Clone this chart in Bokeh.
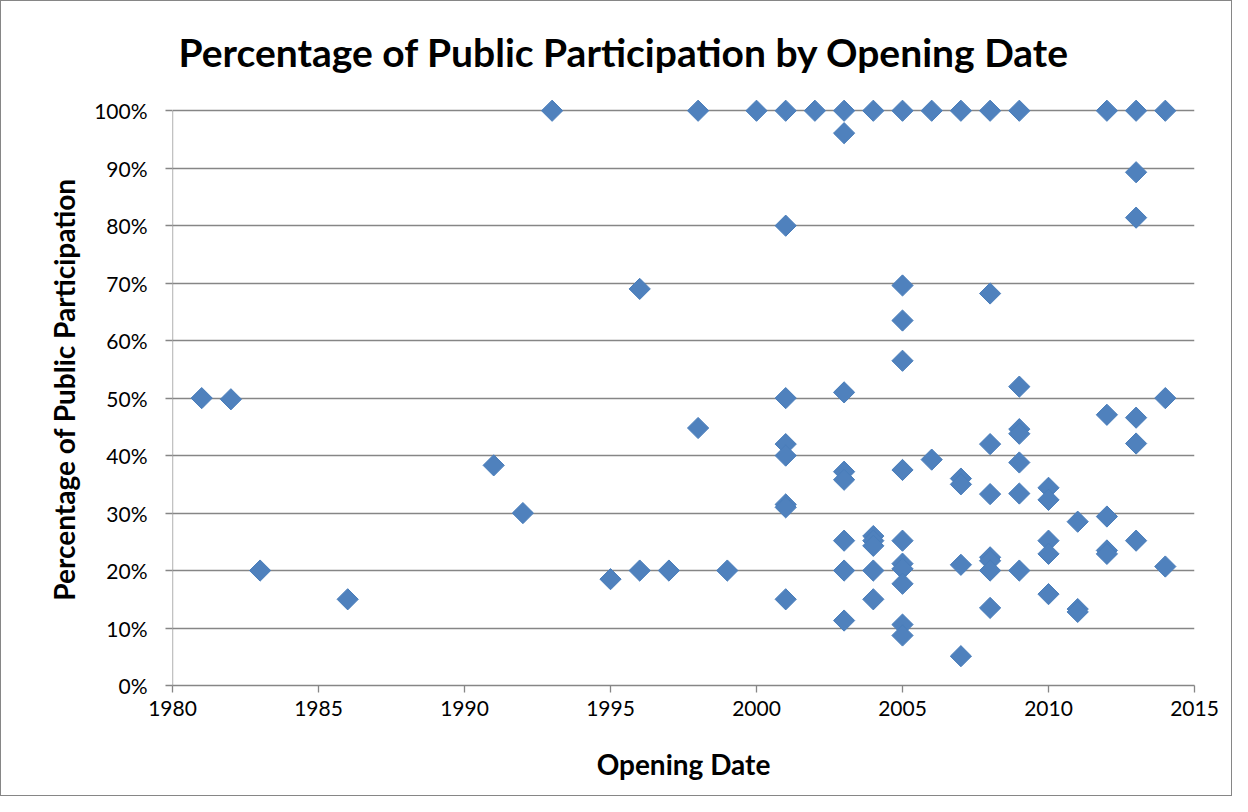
import numpy as np
from bokeh.plotting import figure
from bokeh.models import NumeralTickFormatter, FixedTicker, Range1d, ColumnDataSource
from bokeh.embed import file_html
from bokeh.resources import INLINE

# Data (opening year, share of public participation in %)
opening_year = (
    [1981, 1982, 1983, 1986, 1991, 1992, 1993, 1995]
    + [1996] * 2 + [1997] + [1998] * 2 + [1999] + [2000]
    + [2001] * 8 + [2002] + [2003] * 8 + [2004] * 6 + [2005] * 11
    + [2006] * 2 + [2007] * 5 + [2008] * 8 + [2009] * 7 + [2010] * 5
    + [2011] * 3 + [2012] * 5 + [2013] * 6 + [2014] * 3
)
participation_pct = (
    [50, 49.8, 20, 15, 38.3, 30, 100, 18.5]
    + [69, 20] + [20] + [100, 44.8] + [20] + [100]
    + [100, 80, 50, 42, 40, 31.5, 31, 15]
    + [100]
    + [100, 96.1, 51, 37.2, 35.8, 25.2, 20, 11.3]
    + [100, 26, 25.2, 24.3, 20, 15]
    + [100, 69.6, 63.5, 56.5, 37.5, 25.2, 21.2, 20.3, 17.7, 10.6, 8.7]
    + [100, 39.3]
    + [100, 36, 35, 21, 5.1]
    + [100, 68.2, 42, 33.3, 22.3, 21.7, 20, 13.5]
    + [100, 52, 44.6, 43.8, 38.8, 33.4, 20]
    + [34.4, 32.3, 25.2, 22.9, 15.9]
    + [28.5, 13.3, 12.8]
    + [100, 47.1, 29.4, 23.5, 22.9]
    + [100, 89.3, 81.4, 46.6, 42.1, 25.2]
    + [100, 50, 20.7]
)
x_ticks = [1980, 1985, 1990, 1995, 2000, 2005, 2010, 2015]
y_ticks = [i / 10 for i in range(11)]

FONT = "Lato"
GRID = "#868686"

src = ColumnDataSource(dict(x=opening_year, y=[v / 100 for v in participation_pct]))

p = figure(width=1232, height=796, output_backend="svg", toolbar_location=None,
           x_range=Range1d(1980, 2015), y_range=Range1d(0, 1.03),
           min_border_left=171, min_border_right=39, min_border_top=92, min_border_bottom=112,
           title="Percentage of Public Participation by Opening Date")
p.outline_line_color = None
p.styles = {"border": "1px solid #868686"}

p.title.text_font = FONT
p.title.text_font_size = "39px"
p.title.text_font_style = "bold"
p.title.text_color = "black"
p.title.align = "left"
p.title.offset = 6
p.title.standoff = 38

p.xgrid.grid_line_color = None
p.ygrid.grid_line_color = GRID
p.ygrid.grid_line_width = 1.3
p.ygrid.ticker = FixedTicker(ticks=y_ticks)

p.xaxis.ticker = FixedTicker(ticks=x_ticks)
p.yaxis.ticker = FixedTicker(ticks=y_ticks)
p.yaxis.formatter = NumeralTickFormatter(format="0%")

for ax in (p.xaxis[0], p.yaxis[0]):
    ax.axis_line_color = GRID
    ax.axis_line_width = 1.3
    ax.major_tick_line_color = GRID
    ax.major_tick_line_width = 1.3
    ax.major_tick_in = 0
    ax.major_tick_out = 7
    ax.minor_tick_line_color = None
    ax.major_label_text_font = FONT
    ax.major_label_text_font_size = "21px"
    ax.major_label_text_color = "black"
    ax.axis_label_text_font = FONT
    ax.axis_label_text_font_size = "28px"
    ax.axis_label_text_font_style = "bold"
    ax.axis_label_text_color = "black"

p.yaxis.axis_line_color = None
p.xaxis.axis_label = "Opening Date"
p.yaxis.axis_label = "Percentage of Public Participation"
p.xaxis.axis_label_standoff = 28
p.yaxis.axis_label_standoff = 10
p.yaxis.major_label_standoff = 18
p.xaxis.major_label_standoff = 8

# y axis line only up to 100%
p.segment(x0=[1980], y0=[0], x1=[1980], y1=[1], line_color=GRID, line_width=1.3)

p.scatter("x", "y", source=src, marker="square", angle=np.pi / 4, size=15,
          fill_color="#4F81BD", line_color="#4A7EBB", line_width=1)

open("out.html", "w").write(file_html(p, INLINE))
